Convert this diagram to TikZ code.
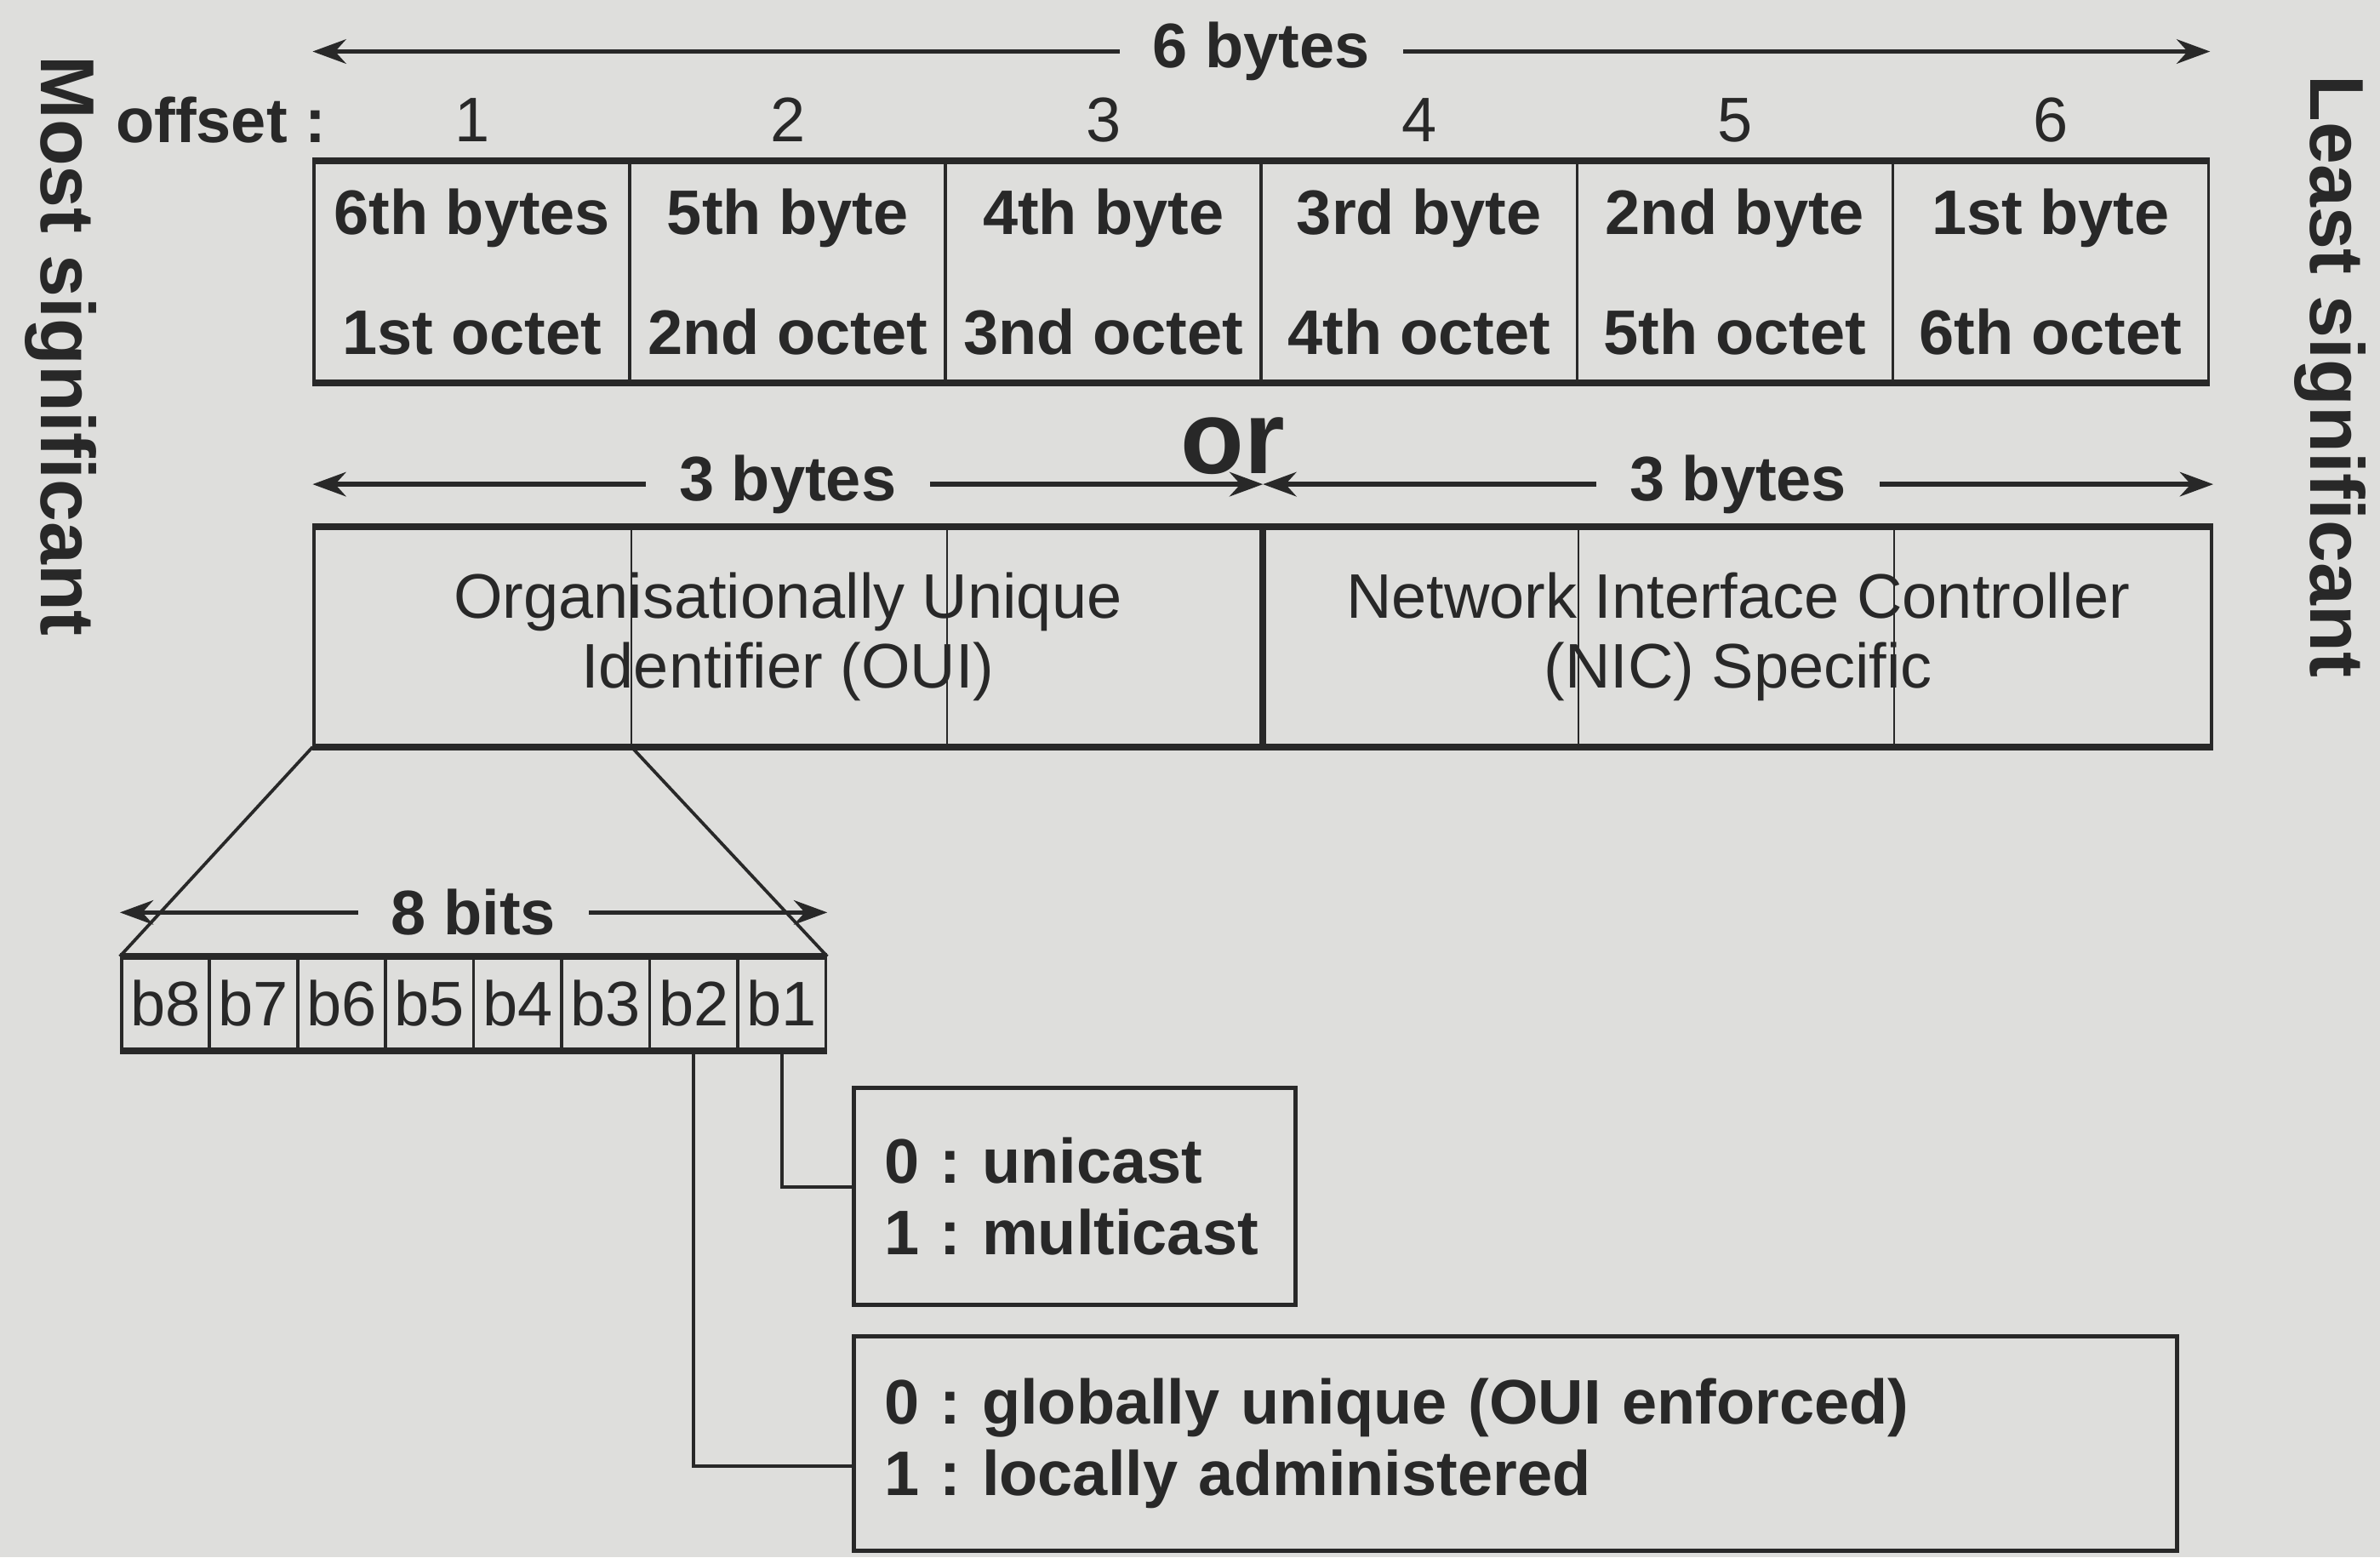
\documentclass[tikz,border=0pt]{standalone}
\usepackage{fontspec}
\setmainfont{Liberation Sans}
\frenchspacing
\usetikzlibrary{arrows.meta, positioning}
\definecolor{paper}{RGB}{222,222,220}
\definecolor{ink}{RGB}{40,40,40}

\begin{document}
\begin{tikzpicture}[>={Stealth[length=2.2mm, width=1.6mm]}, node distance=2.08cm, color=ink,
  txt/.style={font=\fontsize{11.8}{13}\selectfont},
  bold/.style={font=\fontsize{11.8}{14.2}\selectfont\bfseries},
  cell/.style={draw, line width=0.6pt, minimum width=2.08cm, minimum height=1.44cm, inner sep=0pt, align=center, bold},
  field/.style={draw, line width=0.6pt, minimum width=6.24cm, minimum height=1.43cm, inner sep=0pt, align=center, txt},
  bit/.style={draw, line width=0.6pt, minimum width=0.58cm, minimum height=0.60cm, inner sep=0pt, node distance=0.58cm, txt},
  note/.style={draw, line width=0.8pt, align=left, inner xsep=2mm, font=\fontsize{11.8}{13.4}\selectfont\bfseries},
  gap/.style={fill=paper, inner xsep=2.2mm, inner ysep=0pt, bold},
  dim/.style={<->, line width=0.9pt},
  rim/.style={line width=1.3pt},
  side/.style={rotate=-90, font=\fontsize{14.3}{17}\selectfont\bfseries}]

  \fill[paper] (0,0) rectangle (15.68,-10.26);
  \useasboundingbox (0,0) rectangle (15.68,-10.26);

% define the six bytes
  \node[cell]   (c1) at (3.11,-1.79)
{6th bytes\\[2.9mm]1st octet};
  \node[cell]   (c2)   [right of=c1]
{5th byte\\[2.9mm]2nd octet};
  \node[cell]   (c3)   [right of=c2]
{4th byte\\[2.9mm]3nd octet};
  \node[cell]   (c4)   [right of=c3]
{3rd byte\\[2.9mm]4th octet};
  \node[cell]   (c5)   [right of=c4]
{2nd byte\\[2.9mm]5th octet};
  \node[cell]   (c6)   [right of=c5]
{1st byte\\[2.9mm]6th octet};

% offsets
  \node[txt]   (o1)   [above=0pt of c1]   {1};
  \node[txt]   (o2)   [above=0pt of c2]   {2};
  \node[txt]   (o3)   [above=0pt of c3]   {3};
  \node[txt]   (o4)   [above=0pt of c4]   {4};
  \node[txt]   (o5)   [above=0pt of c5]   {5};
  \node[txt]   (o6)   [above=0pt of c6]   {6};
  \node[bold]  (offset)  [left=6mm of o1]  {offset :};

% the two halves
  \node[field, anchor=north west]   (oui)  at ([yshift=-9.5mm]c1.south west)
{Organisationally Unique\\Identifier (OUI)};
  \node[field]   (nic)   [right=0pt of oui]
{Network Interface Controller\\(NIC) Specific};

% the eight bits of the first byte
  \node[bit, anchor=north west]  (b8)  at ([xshift=-12.7mm, yshift=-13.8mm]oui.south west)  {b8};
  \node[bit]   (b7)   [right of=b8]   {b7};
  \node[bit]   (b6)   [right of=b7]   {b6};
  \node[bit]   (b5)   [right of=b6]   {b5};
  \node[bit]   (b4)   [right of=b5]   {b4};
  \node[bit]   (b3)   [right of=b4]   {b3};
  \node[bit]   (b2)   [right of=b3]   {b2};
  \node[bit]   (b1)   [right of=b2]   {b1};

% meaning of b1 and b2
  \node[note, text width=2.51cm, minimum height=1.43cm, anchor=north west]   (cast)  at ([xshift=1.6mm, yshift=-2.3mm]b1.south east)
{0 : unicast\\1 : multicast};
  \node[note, text width=8.32cm, minimum height=1.41cm, anchor=north west]   (admin)  at ([yshift=-1.8mm]cast.south west)
{0 : globally unique (OUI enforced)\\1 : locally administered};

  \node[side]   (most)    at (0.40,-2.28)   {Most significant};
  \node[side]   (least)   at (15.35,-2.48)  {Least significant};
  \node[font=\fontsize{19.5}{22}\selectfont\bfseries]   (or)  at ([xshift=-2mm, yshift=5.3mm]oui.north east)  {or};

% define the lines
  \draw[dim] ([yshift=7.2mm]c1.north west) -- node[gap] {6 bytes} ([yshift=7.2mm]c6.north east);
  \draw[dim] ([yshift=2.8mm]oui.north west) -- node[gap] {3 bytes} ([yshift=2.8mm]oui.north east);
  \draw[dim] ([yshift=2.8mm]nic.north west) -- node[gap] {3 bytes} ([yshift=2.8mm]nic.north east);
  \draw[dim] ([yshift=2.9mm]b8.north west) -- node[gap] {8 bits} ([yshift=2.9mm]b1.north east);

  \draw[rim] (c1.north west) -- (c6.north east)
        (c1.south west) -- (c6.south east)
        (oui.north west) -- (nic.north east)
        (oui.south west) -- (nic.south east)
        (b8.north west) -- (b1.north east)
        (b8.south west) -- (b1.south east);
  \draw[line width=0.3pt] (oui.north -| c1.east) -- (oui.south -| c1.east)
        (oui.north -| c2.east) -- (oui.south -| c2.east)
        (nic.north -| c4.east) -- (nic.south -| c4.east)
        (nic.north -| c5.east) -- (nic.south -| c5.east);
  \draw[line width=0.6pt] (oui.south west) -- (b8.north west)
        (oui.south -| c1.east) -- (b1.north east);
  \draw[line width=0.6pt] (b1.south) |- ([yshift=0.6mm]cast.west)
        (b2.south) |- ([yshift=-1.5mm]admin.west);

\end{tikzpicture}
\end{document}
